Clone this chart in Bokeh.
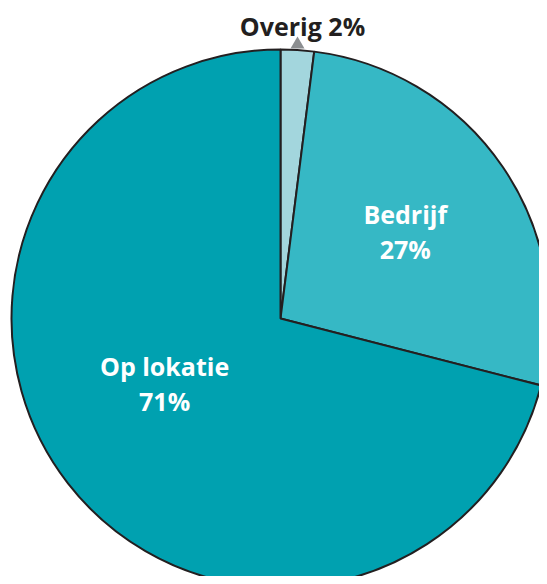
import math
from bokeh.plotting import figure
from bokeh.models import ColumnDataSource
from bokeh.core.properties import value
from bokeh.embed import file_html
from bokeh.resources import INLINE

categories = ["Overig", "Bedrijf", "Op lokatie"]
percentages = [2, 27, 71]
colors = ["#a3d6dd", "#36b8c5", "#00a1b0"]

W, H = 539, 576
cx, cy = 280, H - 318
R = 269
FONT = value("Open Sans")
FS = "25px"

starts, ends, cum = [], [], 0.0
for v in percentages:
    starts.append(math.pi / 2 - cum / 100 * 2 * math.pi)
    cum += v
    ends.append(math.pi / 2 - cum / 100 * 2 * math.pi)

p = figure(width=W, height=H, x_range=(0, W), y_range=(0, H),
           output_backend="svg", toolbar_location=None, min_border=0)
p.axis.visible = False
p.grid.visible = False
p.outline_line_color = None
p.background_fill_color = "white"

src = ColumnDataSource(dict(x=[cx] * 3, y=[cy] * 3, s=starts, e=ends, c=colors))
p.wedge(x="x", y="y", radius=R, start_angle="s", end_angle="e", direction="clock",
        fill_color="c", line_color="#231f20", line_width=2, source=src)

# inner labels: (radius fraction, angle tweak in degrees, clockwise)
placement = [None, (0.565, -0.6), (0.494, 8.5)]
lx, ly, lt = [], [], []
for i, (name, v) in enumerate(zip(categories, percentages)):
    if placement[i] is None:
        continue
    frac, tweak = placement[i]
    mid = (starts[i] + ends[i]) / 2 - math.radians(tweak)
    x = cx + math.cos(mid) * R * frac
    y = cy + math.sin(mid) * R * frac
    lx += [x, x]
    ly += [y + 17.5, y - 17.5]
    lt += [name, f"{v}%"]
p.text(x=lx, y=ly, text=lt, text_color="white", text_font=FONT,
       text_font_style="bold", text_font_size=FS, text_align="center",
       text_baseline="middle")

# outside label for the small slice
p.text(x=[cx + 22], y=[H - 25], text=[f"{categories[0]} {percentages[0]}%"],
       text_color="#231f20", text_font=FONT, text_font_style="bold",
       text_font_size=FS, text_align="center", text_baseline="middle")
p.scatter(x=[cx + 17], y=[H - 44], marker="triangle", size=14,
          fill_color="#8c8e90", line_color=None)

open("out.html", "w").write(file_html(p, INLINE))
